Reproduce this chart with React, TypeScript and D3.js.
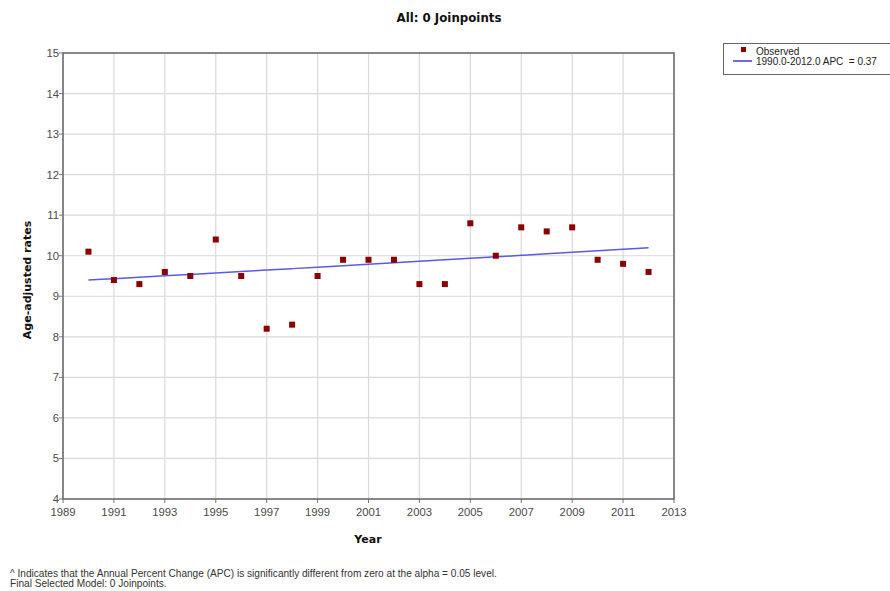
import React from "react";
import * as d3 from "d3";

const years = [1990, 1991, 1992, 1993, 1994, 1995, 1996, 1997, 1998, 1999, 2000, 2001, 2002, 2003, 2004, 2005, 2006, 2007, 2008, 2009, 2010, 2011, 2012];
const observed = [10.1, 9.4, 9.3, 9.6, 9.5, 10.4, 9.5, 8.2, 8.3, 9.5, 9.9, 9.9, 9.9, 9.3, 9.3, 10.8, 10.0, 10.7, 10.6, 10.7, 9.9, 9.8, 9.6];
const fitStart = 9.4;
const apc = 0.37;
const xTicks = [1989, 1991, 1993, 1995, 1997, 1999, 2001, 2003, 2005, 2007, 2009, 2011, 2013];
const yTicks = [4, 5, 6, 7, 8, 9, 10, 11, 12, 13, 14, 15];

const W = 890, H = 591;
const left = 63, right = 674, top = 53, bottom = 499;

export default function App() {
  const x = d3.scaleLinear().domain([1989, 2013]).range([left, right]);
  const y = d3.scaleLinear().domain([4, 15]).range([bottom, top]);
  const fit = years.map((yr) => ({ yr, v: fitStart * Math.pow(1 + apc / 100, yr - years[0]) }));
  const line = d3.line<{ yr: number; v: number }>().x((d) => x(d.yr)).y((d) => y(d.v)).curve(d3.curveMonotoneX);
  const bold = "'DejaVu Sans', Verdana, sans-serif";
  const font = "'Liberation Sans', Arial, sans-serif";
  return (
    <svg width={W} height={H} style={{ position: "absolute", left: 0, top: 0, background: "#fff" }} fontFamily={font}>
      <text x={449} y={22} textAnchor="middle" fontSize={11.8} fontWeight="bold" fill="#111" fontFamily={bold}>All: 0 Joinpoints</text>
      {yTicks.map((t) => (
        <g key={"y" + t}>
          <line x1={left} x2={right} y1={y(t)} y2={y(t)} stroke="#d9d9d9" strokeWidth={1.2} />
          <line x1={left - 4} x2={left} y1={y(t)} y2={y(t)} stroke="#777" />
          <text x={left - 4} y={y(t) + 4} textAnchor="end" fontSize={11.3} fill="#4a4a4a">{t}</text>
        </g>
      ))}
      {xTicks.map((t) => (
        <g key={"x" + t}>
          <line x1={x(t)} x2={x(t)} y1={top} y2={bottom} stroke="#d9d9d9" strokeWidth={1.2} />
          <line x1={x(t)} x2={x(t)} y1={bottom} y2={bottom + 4} stroke="#777" />
          <text x={x(t)} y={bottom + 17} textAnchor="middle" fontSize={11.3} fill="#4a4a4a">{t}</text>
        </g>
      ))}
      <rect x={left} y={top} width={right - left} height={bottom - top} fill="none" stroke="#666" strokeWidth={1.5} />
      <path d={line(fit) || ""} fill="none" stroke="#5a5ae6" strokeWidth={1.5} />
      {years.map((yr, i) => (
        <rect key={yr} x={x(yr) - 3} y={y(observed[i]) - 3} width={6} height={6} fill="#8b0000" />
      ))}
      <text transform={`translate(31,${(top + bottom) / 2 + 4}) rotate(-90)`} textAnchor="middle" fontSize={11} fontWeight="bold" fill="#111" fontFamily={bold}>Age-adjusted rates</text>
      <text x={368} y={543} textAnchor="middle" fontSize={11} fontWeight="bold" fill="#111" fontFamily={bold}>Year</text>
      <rect x={723.5} y={43.5} width={175} height={31} fill="#fff" stroke="#666" />
      <rect x={741} y={47} width={5} height={5} fill="#8b0000" />
      <line x1={733} x2={752} y1={61} y2={61} stroke="#3a3ae0" strokeWidth={1.5} />
      <text x={756} y={55} fontSize={10} fill="#222">Observed</text>
      <text x={756} y={65} fontSize={10} fill="#222" style={{ whiteSpace: "pre" }}>1990.0-2012.0 APC  = 0.37</text>
      <text x={10} y={577} fontSize={10.1} fill="#333">^ Indicates that the Annual Percent Change (APC) is significantly different from zero at the alpha = 0.05 level.</text>
      <text x={10} y={587} fontSize={10.1} fill="#333">Final Selected Model: 0 Joinpoints.</text>
    </svg>
  );
}
